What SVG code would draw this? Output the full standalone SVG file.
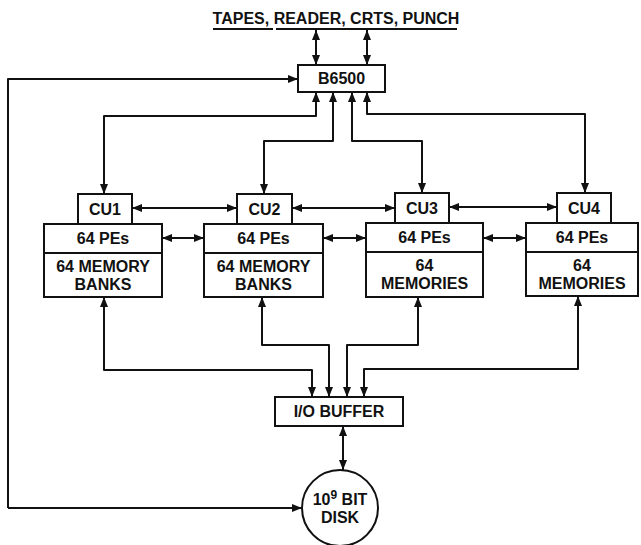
<svg xmlns="http://www.w3.org/2000/svg" width="641" height="545" viewBox="0 0 641 545">
<style>
.b{fill:#fff;stroke:#111;stroke-width:2}
.c{fill:none;stroke:#111;stroke-width:2;stroke-linejoin:round}
text{font-family:"Liberation Sans",Arial,sans-serif;font-size:16px;font-weight:bold;fill:#111;text-anchor:middle}
</style>
<defs>
<marker id="a" viewBox="0 0 10 8" refX="10" refY="4" markerWidth="10" markerHeight="8" markerUnits="userSpaceOnUse" orient="auto-start-reverse"><path d="M0,0L10,4L0,8z" fill="#111"/></marker>
</defs>
<rect width="641" height="545" fill="#fff"/>
<g id="io-devices">
<text x="336" y="24">TAPES, READER, CRTS, PUNCH</text>
<path class="c" d="M213,29H273M276,29H457"/>
</g>
<g id="b6500"><rect class="b" x="298" y="65" width="87" height="27"/><text x="341.5" y="84">B6500</text></g>
<g id="cu1"><rect class="b" x="78" y="194" width="54" height="30"/><text x="105" y="215">CU1</text></g>
<g id="cu2"><rect class="b" x="237" y="194" width="55" height="30"/><text x="264.5" y="215">CU2</text></g>
<g id="cu3"><rect class="b" x="395" y="193" width="54" height="30"/><text x="422" y="214">CU3</text></g>
<g id="cu4"><rect class="b" x="557" y="193" width="54" height="30"/><text x="584" y="214">CU4</text></g>
<g id="pe1"><rect class="b" x="44" y="224" width="118" height="73"/><path class="c" d="M44,253H162"/><text x="103" y="244">64 PEs</text><text x="103" y="272">64 MEMORY</text><text x="103" y="290">BANKS</text></g>
<g id="pe2"><rect class="b" x="204" y="224" width="119" height="73"/><path class="c" d="M204,253H323"/><text x="263.5" y="244">64 PEs</text><text x="263.5" y="272">64 MEMORY</text><text x="263.5" y="290">BANKS</text></g>
<g id="pe3"><rect class="b" x="366" y="223" width="117" height="74"/><path class="c" d="M366,252H483"/><text x="424.5" y="243">64 PEs</text><text x="424.5" y="271">64</text><text x="424.5" y="289">MEMORIES</text></g>
<g id="pe4"><rect class="b" x="526" y="223" width="112" height="73"/><path class="c" d="M526,252H638"/><text x="582" y="243">64 PEs</text><text x="582" y="271">64</text><text x="582" y="289">MEMORIES</text></g>
<g id="iobuffer"><rect class="b" x="275" y="397" width="128" height="29"/><text x="339" y="417">I/O BUFFER</text></g>
<g id="disk"><circle class="b" cx="340" cy="508" r="38"/><text x="340" y="505">10<tspan font-size="12" dy="-6">9</tspan><tspan dy="6"> BIT</tspan></text><text x="340" y="523">DISK</text></g>
<g id="connectors">
<path class="c" marker-start="url(#a)" marker-end="url(#a)" d="M316,30V65"/>
<path class="c" marker-start="url(#a)" marker-end="url(#a)" d="M367,30V65"/>
<path class="c" marker-end="url(#a)" d="M8,508V79H298"/>
<path class="c" marker-end="url(#a)" d="M8,508H302"/>
<path class="c" marker-start="url(#a)" marker-end="url(#a)" d="M316,92V116H104V194"/>
<path class="c" marker-start="url(#a)" marker-end="url(#a)" d="M333,92V141H264V194"/>
<path class="c" marker-start="url(#a)" marker-end="url(#a)" d="M352,92V141H422V193"/>
<path class="c" marker-start="url(#a)" marker-end="url(#a)" d="M367,92V114H585V193"/>
<path class="c" marker-start="url(#a)" marker-end="url(#a)" d="M132,208H237"/>
<path class="c" marker-start="url(#a)" marker-end="url(#a)" d="M292,208H395"/>
<path class="c" marker-start="url(#a)" marker-end="url(#a)" d="M449,207H557"/>
<path class="c" marker-start="url(#a)" marker-end="url(#a)" d="M162,238H204"/>
<path class="c" marker-start="url(#a)" marker-end="url(#a)" d="M323,238H366"/>
<path class="c" marker-start="url(#a)" marker-end="url(#a)" d="M483,238H526"/>
<path class="c" marker-start="url(#a)" marker-end="url(#a)" d="M104,297V370H312V397"/>
<path class="c" marker-start="url(#a)" marker-end="url(#a)" d="M262,297V345H329V397"/>
<path class="c" marker-start="url(#a)" marker-end="url(#a)" d="M418,297V345H347V397"/>
<path class="c" marker-start="url(#a)" marker-end="url(#a)" d="M578,296V369H364V397"/>
<path class="c" marker-start="url(#a)" marker-end="url(#a)" d="M343,426V470"/>
</g>
</svg>
